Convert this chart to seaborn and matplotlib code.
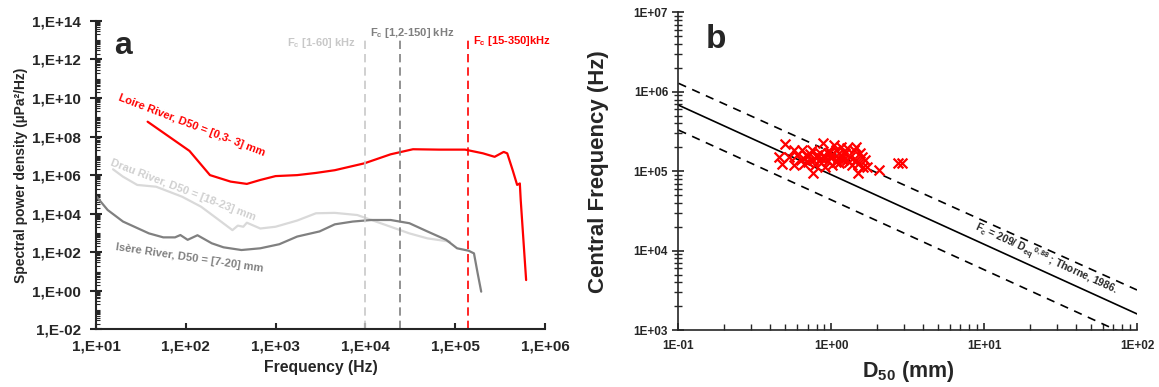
import numpy as np
import seaborn as sns
import matplotlib.pyplot as plt
from matplotlib.ticker import LogLocator, FixedLocator, FixedFormatter, NullFormatter

sns.set_style("ticks")
plt.rcParams['font.family'] = ['Liberation Sans', 'DejaVu Sans']
plt.rcParams['font.weight'] = 'bold'
plt.rcParams['mathtext.fontset'] = 'custom'
plt.rcParams['mathtext.rm'] = 'Liberation Sans:bold'
plt.rcParams['mathtext.bf'] = 'Liberation Sans:bold'
plt.rcParams['mathtext.it'] = 'Liberation Sans:bold'
plt.rcParams['mathtext.default'] = 'rm'

# --- panel a: spectra ---
loire_f = [37.6, 110, 186, 316, 479, 676, 1000, 1740, 2820, 4570, 9770, 19100, 33900,
           66100, 129000, 204000, 275000, 347000, 380000, 437000, 490000, 525000,
           537000, 589000, 617000]
loire_p = [5.9e8, 1.8e7, 1.0e6, 4.6e5, 3.5e5, 5.6e5, 8.9e5, 1.0e6, 1.3e6, 1.8e6, 4.1e6,
           1.2e7, 2.2e7, 2.1e7, 2.1e7, 1.35e7, 8.9e6, 1.6e7, 1.35e7, 1.8e6, 3.1e5,
           3.7e5, 5.1e4, 87, 3.6]

drau_f = [15.5, 20, 28.8, 46.8, 91, 148, 234, 331, 380, 437, 479, 676, 1000, 1740,
          2820, 4570, 8130, 11700, 19100, 30900, 49000, 87100]
drau_p = [2.0e6, 8.3e5, 3.1e5, 2.5e5, 7.6e4, 2.3e4, 4.7e3, 1.4e3, 2.4e3, 2.1e3, 3.4e3,
          1.7e3, 2.1e3, 4.4e3, 1.05e4, 1.1e4, 8.5e3, 4.7e3, 2.1e3, 950, 525, 355]

isere_f = [10, 13.5, 20, 38.9, 56.2, 75.9, 87.1, 105, 135, 195, 263, 417, 676, 1100,
           1740, 3090, 4570, 7240, 11700, 19100, 30900, 49000, 79400, 105000, 141000,
           162000, 178000, 195000]
isere_p = [8.3e4, 1.55e4, 3.9e3, 950, 590, 590, 780, 440, 760, 290, 180, 130, 160, 260,
           650, 1.2e3, 2.8e3, 3.9e3, 4.7e3, 4.7e3, 3.2e3, 1.2e3, 440, 160, 120, 87, 8.1, 0.9]

fc_lines = [1.0e4, 2.4e4, 1.4e5]
fc_colors = ['#c8c8c8', '#7f7f7f', '#ff0000']

a_yticks = [1e-2, 1e0, 1e2, 1e4, 1e6, 1e8, 1e10, 1e12, 1e14]
a_ylabels = ['1,E-02', '1,E+00', '1,E+02', '1,E+04', '1,E+06', '1,E+08', '1,E+10',
             '1,E+12', '1,E+14']
a_xticks = [1e1, 1e2, 1e3, 1e4, 1e5, 1e6]
a_xlabels = ['1,E+01', '1,E+02', '1,E+03', '1,E+04', '1,E+05', '1,E+06']

# --- panel b: central frequency vs D50 ---
d50 = [0.498, 0.458, 0.476, 0.532, 0.572, 0.572, 0.647, 0.654, 0.692, 0.743, 0.764,
       0.807, 0.756, 0.845, 0.879, 0.904, 0.945, 0.982, 1.04, 1.07, 1.13, 1.19, 1.26,
       1.30, 1.33, 1.41, 1.45, 1.49, 1.58, 1.62, 1.67, 1.71, 1.45, 1.13, 0.855, 0.785,
       0.703, 0.629, 1.26, 1.01, 0.904, 1.16, 1.07, 1.23, 1.37, 2.06, 2.72, 2.91,
       0.80, 0.85, 0.95, 1.00, 1.10, 1.20, 0.72, 0.90, 1.15, 0.66, 1.50, 1.55, 0.60, 0.98]
fc = [2.20e5, 1.52e5, 1.23e5, 1.52e5, 1.85e5, 1.20e5, 1.85e5, 1.45e5, 1.55e5, 1.85e5,
      1.38e5, 1.52e5, 9.6e4, 1.71e5, 2.24e5, 1.45e5, 1.68e5, 1.52e5, 2.13e5, 1.32e5,
      1.68e5, 1.52e5, 1.94e5, 1.32e5, 1.52e5, 1.85e5, 1.38e5, 9.4e4, 1.52e5, 1.14e5,
      1.38e5, 1.14e5, 2.03e5, 1.26e5, 1.26e5, 1.20e5, 1.32e5, 1.38e5, 1.38e5, 1.20e5,
      1.14e5, 2.03e5, 1.85e5, 1.68e5, 1.20e5, 1.03e5, 1.28e5, 1.28e5,
      1.6e5, 1.45e5, 1.35e5, 1.6e5, 1.45e5, 1.4e5, 1.65e5, 1.55e5, 1.6e5, 1.25e5,
      1.25e5, 1.7e5, 1.6e5, 1.75e5]

thorne_d = [0.1, 100]
thorne_fc = [6.8e5, 1.6e3]
upper_fc = [1.28e6, 3.2e3]
lower_fc = [3.3e5, 7.6e2]

b_yticks = [1e3, 1e4, 1e5, 1e6, 1e7]
b_ylabels = ['1E+03', '1E+04', '1E+05', '1E+06', '1E+07']
b_xticks = [0.1, 1, 10, 100]
b_xlabels = ['1E-01', '1E+00', '1E+01', '1E+02']

fig = plt.figure(figsize=(11.59, 3.87), dpi=100)
ax1 = fig.add_axes([0.0828, 0.149, 0.3874, 0.797])
ax2 = fig.add_axes([0.5854, 0.147, 0.3956, 0.821])

# panel a
sns.lineplot(x=drau_f, y=drau_p, sort=False, estimator=None, color='#d9d9d9', lw=1.6, ax=ax1)
sns.lineplot(x=isere_f, y=isere_p, sort=False, estimator=None, color='#808080', lw=1.6, ax=ax1)
sns.lineplot(x=loire_f, y=loire_p, sort=False, estimator=None, color='#ff0000', lw=1.6, ax=ax1)
for xv, c in zip(fc_lines, fc_colors):
    ax1.axvline(xv, ymin=0, ymax=0.94, color=c, lw=1.2, ls=(0, (5, 3)))
ax1.set_xscale('log')
ax1.set_yscale('log')
ax1.set_xlim(1e1, 1e6)
ax1.set_ylim(1e-2, 1e14)
ax1.yaxis.set_major_locator(FixedLocator(a_yticks))
ax1.yaxis.set_major_formatter(FixedFormatter(a_ylabels))
ax1.yaxis.set_minor_locator(LogLocator(base=10, subs=np.arange(1, 10), numticks=100))
ax1.yaxis.set_minor_formatter(NullFormatter())
ax1.xaxis.set_major_locator(FixedLocator(a_xticks))
ax1.xaxis.set_major_formatter(FixedFormatter(a_xlabels))
ax1.xaxis.set_minor_locator(FixedLocator([]))
ax1.tick_params(axis='y', which='major', direction='inout', length=8, width=1.5,
                labelsize=11, pad=7)
ax1.tick_params(axis='y', which='minor', direction='in', length=3, width=0.8)
ax1.tick_params(axis='x', which='major', direction='in', length=4, width=1.5,
                labelsize=11, pad=7)
for s in ['top', 'right']:
    ax1.spines[s].set_visible(False)
for s in ['left', 'bottom']:
    ax1.spines[s].set_linewidth(1.5)
ax1.set_xlabel('Frequency (Hz)', fontsize=11.3, fontweight='bold', labelpad=5)
ax1.set_ylabel('Spectral power density (µPa²/Hz)', fontsize=10, fontweight='bold', labelpad=3)

ax1.text(16, 5e12, 'a', fontsize=23, fontweight='bold', va='center')
ax1.text(18, 1.1e10, 'Loire River, D50 = [0,3- 3] mm', color='#ff0000', fontsize=8,
         fontweight='bold', rotation=-21, rotation_mode='anchor', va='center')
ax1.text(14.7, 4.7e6, 'Drau River, D50 = [18-23] mm', color='#d0d0d0', fontsize=8,
         fontweight='bold', rotation=-21, rotation_mode='anchor', va='center')
ax1.text(16.7, 1.9e2, 'Isère River, D50 = [7-20] mm', color='#808080', fontsize=8,
         fontweight='bold', rotation=-8.4, rotation_mode='anchor', va='center')
trans = ax1.get_xaxis_transform()
ax1.text(7.9e3, 0.927, 'F$_c$ [1-60] kHz', color='#c8c8c8', fontsize=8,
         ha='right', va='center', transform=trans)
ax1.text(1.12e4, 0.961, 'F$_c$ [1,2-150] kHz', color='#7f7f7f', fontsize=8,
         ha='left', va='center', transform=trans)
ax1.text(1.57e5, 0.934, 'F$_c$ [15-350]kHz', color='#ff0000', fontsize=8,
         ha='left', va='center', transform=trans)

# panel b
sns.lineplot(x=thorne_d, y=thorne_fc, color='black', lw=1.2, ax=ax2)
sns.lineplot(x=thorne_d, y=upper_fc, color='black', lw=1.2, ls=(0, (5, 4)), ax=ax2)
sns.lineplot(x=thorne_d, y=lower_fc, color='black', lw=1.2, ls=(0, (5, 4)), ax=ax2)
sns.scatterplot(x=d50, y=fc, marker='x', color='#ff0000', s=50, linewidth=1.6, ax=ax2, zorder=3)
ax2.set_xscale('log')
ax2.set_yscale('log')
ax2.set_xlim(0.1, 100)
ax2.set_ylim(1e3, 1e7)
ax2.yaxis.set_major_locator(FixedLocator(b_yticks))
ax2.yaxis.set_major_formatter(FixedFormatter(b_ylabels))
ax2.yaxis.set_minor_locator(LogLocator(base=10, subs=np.arange(2, 10), numticks=100))
ax2.yaxis.set_minor_formatter(NullFormatter())
ax2.xaxis.set_major_locator(FixedLocator(b_xticks))
ax2.xaxis.set_major_formatter(FixedFormatter(b_xlabels))
ax2.xaxis.set_minor_locator(LogLocator(base=10, subs=np.arange(2, 10), numticks=100))
ax2.xaxis.set_minor_formatter(NullFormatter())
ax2.tick_params(axis='y', which='major', direction='inout', length=8, width=1.2, labelsize=8.5)
ax2.tick_params(axis='y', which='minor', direction='inout', length=6, width=1.0)
ax2.tick_params(axis='x', which='major', direction='in', length=5, width=1.2, labelsize=8.5, pad=7)
ax2.tick_params(axis='x', which='minor', direction='in', length=4, width=1.0)
for s in ['top', 'right']:
    ax2.spines[s].set_visible(False)
for s in ['left', 'bottom']:
    ax2.spines[s].set_linewidth(1.2)
ax2.set_xlabel('D$_{50}$ (mm)', fontsize=15.5, fontweight='bold', labelpad=5)
ax2.set_ylabel('Central Frequency (Hz)', fontsize=16, fontweight='bold', labelpad=18)
ax2.text(0.15, 4.5e6, 'b', fontsize=24, fontweight='bold', va='center')
ax2.text(25, 7.6e3, 'F$_c$ = 209/ D$_{eq}$$^{0,88}$ ; Thorne, 1986.', fontsize=7.5,
         rotation=-24.5, rotation_mode='anchor', ha='center', va='center')

fig.savefig('out.png', dpi=100)
